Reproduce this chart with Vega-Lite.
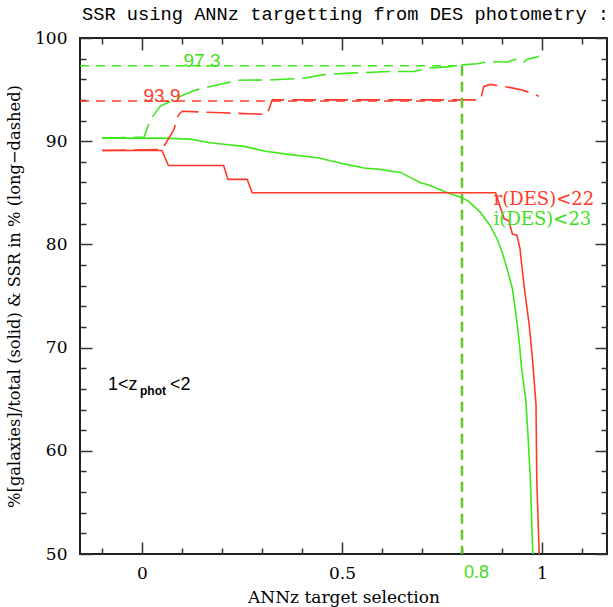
{
  "$schema": "https://vega.github.io/schema/vega-lite/v6.json",
  "width": 527,
  "height": 516,
  "autosize": {"type": "none"},
  "padding": {"left": 80, "top": 38, "right": 6, "bottom": 53},
  "background": "white",
  "title": {
    "text": "SSR using ANNz targetting from DES photometry :",
    "anchor": "start",
    "frame": "group",
    "font": "Liberation Mono",
    "fontSize": 18.7,
    "fontWeight": "normal",
    "color": "black",
    "baseline": "alphabetic",
    "offset": -10,
    "dx": 2
  },
  "config": {
    "view": {"stroke": "#222222", "strokeWidth": 2},
    "axis": {
      "domain": false,
      "grid": false,
      "tickColor": "#333333",
      "tickWidth": 1.5,
      "labelFont": "DejaVu Serif",
      "labelFontSize": 17,
      "labelColor": "black",
      "titleFont": "DejaVu Serif",
      "titleFontSize": 16.3,
      "titleFontWeight": "normal",
      "titleColor": "black"
    }
  },
  "datasets": {
    "curves": [
      {"s": "i_frac", "x": -0.1, "y": 90.3},
      {"s": "i_frac", "x": 0.05, "y": 90.3},
      {"s": "i_frac", "x": 0.12, "y": 90.2},
      {"s": "i_frac", "x": 0.17, "y": 89.85},
      {"s": "i_frac", "x": 0.205, "y": 89.7},
      {"s": "i_frac", "x": 0.255, "y": 89.5},
      {"s": "i_frac", "x": 0.305, "y": 89.05},
      {"s": "i_frac", "x": 0.37, "y": 88.7},
      {"s": "i_frac", "x": 0.44, "y": 88.4},
      {"s": "i_frac", "x": 0.505, "y": 87.8},
      {"s": "i_frac", "x": 0.555, "y": 87.4},
      {"s": "i_frac", "x": 0.6, "y": 87.25},
      {"s": "i_frac", "x": 0.62, "y": 87.1},
      {"s": "i_frac", "x": 0.645, "y": 87.0},
      {"s": "i_frac", "x": 0.695, "y": 86.0},
      {"s": "i_frac", "x": 0.72, "y": 85.7},
      {"s": "i_frac", "x": 0.763, "y": 85.0},
      {"s": "i_frac", "x": 0.795, "y": 84.6},
      {"s": "i_frac", "x": 0.816, "y": 84.2},
      {"s": "i_frac", "x": 0.846, "y": 83.1},
      {"s": "i_frac", "x": 0.871, "y": 81.8},
      {"s": "i_frac", "x": 0.888, "y": 80.5},
      {"s": "i_frac", "x": 0.9, "y": 79.3},
      {"s": "i_frac", "x": 0.913, "y": 77.6},
      {"s": "i_frac", "x": 0.926, "y": 75.7},
      {"s": "i_frac", "x": 0.934, "y": 73.5},
      {"s": "i_frac", "x": 0.943, "y": 70.6},
      {"s": "i_frac", "x": 0.949, "y": 68.0},
      {"s": "i_frac", "x": 0.959, "y": 65.1},
      {"s": "i_frac", "x": 0.9645, "y": 61.9},
      {"s": "i_frac", "x": 0.971, "y": 57.1},
      {"s": "i_frac", "x": 0.977, "y": 50.0},
      {"s": "r_frac", "x": -0.1, "y": 89.1},
      {"s": "r_frac", "x": 0.05, "y": 89.1},
      {"s": "r_frac", "x": 0.066, "y": 87.65},
      {"s": "r_frac", "x": 0.204, "y": 87.65},
      {"s": "r_frac", "x": 0.215, "y": 86.3},
      {"s": "r_frac", "x": 0.263, "y": 86.3},
      {"s": "r_frac", "x": 0.2755, "y": 85.0},
      {"s": "r_frac", "x": 0.884, "y": 85.0},
      {"s": "r_frac", "x": 0.905, "y": 82.5},
      {"s": "r_frac", "x": 0.917, "y": 82.3},
      {"s": "r_frac", "x": 0.926, "y": 81.0},
      {"s": "r_frac", "x": 0.937, "y": 80.9},
      {"s": "r_frac", "x": 0.945, "y": 79.6},
      {"s": "r_frac", "x": 0.955, "y": 76.0},
      {"s": "r_frac", "x": 0.968, "y": 72.2},
      {"s": "r_frac", "x": 0.976, "y": 69.0},
      {"s": "r_frac", "x": 0.985, "y": 64.5},
      {"s": "r_frac", "x": 0.987, "y": 57.1},
      {"s": "r_frac", "x": 0.993, "y": 50.0},
      {"s": "i_ssr", "x": -0.1, "y": 90.3},
      {"s": "i_ssr", "x": 0.005, "y": 90.4},
      {"s": "i_ssr", "x": 0.021, "y": 92.1},
      {"s": "i_ssr", "x": 0.046, "y": 93.4},
      {"s": "i_ssr", "x": 0.071, "y": 93.85},
      {"s": "i_ssr", "x": 0.1045, "y": 94.5},
      {"s": "i_ssr", "x": 0.138, "y": 95.0},
      {"s": "i_ssr", "x": 0.2045, "y": 95.6},
      {"s": "i_ssr", "x": 0.238, "y": 95.9},
      {"s": "i_ssr", "x": 0.33, "y": 95.95},
      {"s": "i_ssr", "x": 0.4045, "y": 96.1},
      {"s": "i_ssr", "x": 0.4545, "y": 96.45},
      {"s": "i_ssr", "x": 0.521, "y": 96.6},
      {"s": "i_ssr", "x": 0.621, "y": 96.75},
      {"s": "i_ssr", "x": 0.68, "y": 96.75},
      {"s": "i_ssr", "x": 0.721, "y": 97.1},
      {"s": "i_ssr", "x": 0.763, "y": 97.2},
      {"s": "i_ssr", "x": 0.8, "y": 97.4},
      {"s": "i_ssr", "x": 0.838, "y": 97.5},
      {"s": "i_ssr", "x": 0.863, "y": 97.7},
      {"s": "i_ssr", "x": 0.888, "y": 97.7},
      {"s": "i_ssr", "x": 0.913, "y": 97.65},
      {"s": "i_ssr", "x": 0.93, "y": 97.9},
      {"s": "i_ssr", "x": 0.942, "y": 97.95},
      {"s": "i_ssr", "x": 0.9545, "y": 97.65},
      {"s": "i_ssr", "x": 0.963, "y": 97.95},
      {"s": "i_ssr", "x": 0.9755, "y": 98.05},
      {"s": "i_ssr", "x": 0.992, "y": 98.2},
      {"s": "r_ssr", "x": -0.1, "y": 89.1},
      {"s": "r_ssr", "x": 0.05, "y": 89.2},
      {"s": "r_ssr", "x": 0.0795, "y": 91.1},
      {"s": "r_ssr", "x": 0.092, "y": 92.6},
      {"s": "r_ssr", "x": 0.1005, "y": 92.9},
      {"s": "r_ssr", "x": 0.2, "y": 92.75},
      {"s": "r_ssr", "x": 0.313, "y": 92.6},
      {"s": "r_ssr", "x": 0.3255, "y": 94.0},
      {"s": "r_ssr", "x": 0.846, "y": 94.0},
      {"s": "r_ssr", "x": 0.8545, "y": 95.3},
      {"s": "r_ssr", "x": 0.871, "y": 95.5},
      {"s": "r_ssr", "x": 0.913, "y": 95.25},
      {"s": "r_ssr", "x": 0.946, "y": 95.0},
      {"s": "r_ssr", "x": 0.971, "y": 94.7},
      {"s": "r_ssr", "x": 0.992, "y": 94.35}
    ],
    "refs": [
      {"s": "i_ref", "x": -0.155, "y": 97.3},
      {"s": "i_ref", "x": 0.8, "y": 97.3},
      {"s": "r_ref", "x": -0.155, "y": 93.9},
      {"s": "r_ref", "x": 0.8, "y": 93.9},
      {"s": "i_cut", "x": 0.8, "y": 97.3},
      {"s": "i_cut", "x": 0.8, "y": 50.0}
    ],
    "labels": [
      {"k": "i_val", "text": "97.3", "x": 0.15, "y": 97.3},
      {"k": "r_val", "text": "93.9", "x": 0.05, "y": 93.9},
      {"k": "cut", "text": "0.8", "x": 0.8, "y": 50},
      {"k": "r_name", "text": "r(DES)<22", "x": 0.879, "y": 84.3},
      {"k": "i_name", "text": "i(DES)<23", "x": 0.879, "y": 82.35},
      {"k": "z_a", "text": "1<z", "x": -0.085, "y": 66.4},
      {"k": "z_b", "text": "phot", "x": -0.085, "y": 66.4},
      {"k": "z_c", "text": "<2", "x": -0.085, "y": 66.4}
    ]
  },
  "resolve": {"axis": {"x": "independent", "y": "independent"}},
  "layer": [
    {
      "data": {"name": "curves"},
      "transform": [{"filter": "datum.s == 'i_frac'"}],
      "mark": {"type": "line", "color": "#3fe81a", "strokeWidth": 1.6, "clip": true},
      "encoding": {
        "x": {
          "field": "x", "type": "quantitative",
          "scale": {"domain": [-0.155, 1.1625], "nice": false, "zero": false},
          "axis": {"orient": "bottom", "values": [0, 0.5, 1], "format": "~g", "tickSize": -12, "labelPadding": 23, "title": "ANNz target selection", "titlePadding": 8, "titleFontSize": 17}
        },
        "y": {
          "field": "y", "type": "quantitative",
          "scale": {"domain": [50, 100], "nice": false, "zero": false},
          "axis": {"orient": "left", "values": [50, 60, 70, 80, 90, 100], "tickSize": -12, "labelPadding": 25, "title": "%[galaxies]/total (solid) & SSR in % (long\u2212dashed)", "titlePadding": 12}
        },
        "order": {"field": "x", "type": "quantitative"}
      }
    },
    {
      "data": {"name": "curves"},
      "transform": [{"filter": "datum.s == 'r_frac'"}],
      "mark": {"type": "line", "color": "#ff3a2a", "strokeWidth": 1.6, "clip": true},
      "encoding": {
        "x": {
          "field": "x", "type": "quantitative",
          "axis": {"orient": "bottom", "values": [-0.1, 0.1, 0.2, 0.3, 0.4, 0.6, 0.7, 0.8, 0.9, 1.1], "tickSize": -6, "labels": false, "title": null}
        },
        "y": {
          "field": "y", "type": "quantitative",
          "axis": {"orient": "left", "values": [52, 54, 56, 58, 62, 64, 66, 68, 72, 74, 76, 78, 82, 84, 86, 88, 92, 94, 96, 98], "tickSize": -6, "labels": false, "title": null}
        },
        "order": {"field": "x", "type": "quantitative"}
      }
    },
    {
      "data": {"name": "curves"},
      "transform": [{"filter": "datum.s == 'i_ssr'"}],
      "mark": {"type": "line", "color": "#3fe81a", "strokeWidth": 1.6, "strokeDash": [24, 8], "clip": true},
      "encoding": {
        "x": {
          "field": "x", "type": "quantitative",
          "axis": {"orient": "top", "values": [0, 0.5, 1], "tickSize": -12, "labels": false, "title": null}
        },
        "y": {
          "field": "y", "type": "quantitative",
          "axis": {"orient": "right", "values": [50, 60, 70, 80, 90, 100], "tickSize": -12, "labels": false, "title": null}
        },
        "order": {"field": "x", "type": "quantitative"}
      }
    },
    {
      "data": {"name": "curves"},
      "transform": [{"filter": "datum.s == 'r_ssr'"}],
      "mark": {"type": "line", "color": "#ff3a2a", "strokeWidth": 1.6, "strokeDash": [24, 8], "clip": true},
      "encoding": {
        "x": {
          "field": "x", "type": "quantitative",
          "axis": {"orient": "top", "values": [-0.1, 0.1, 0.2, 0.3, 0.4, 0.6, 0.7, 0.8, 0.9, 1.1], "tickSize": -6, "labels": false, "title": null}
        },
        "y": {
          "field": "y", "type": "quantitative",
          "axis": {"orient": "right", "values": [52, 54, 56, 58, 62, 64, 66, 68, 72, 74, 76, 78, 82, 84, 86, 88, 92, 94, 96, 98], "tickSize": -6, "labels": false, "title": null}
        },
        "order": {"field": "x", "type": "quantitative"}
      }
    },
    {
      "data": {"name": "refs"},
      "transform": [{"filter": "datum.s == 'i_ref'"}],
      "mark": {"type": "line", "color": "#3fe81a", "strokeWidth": 1.5, "strokeDash": [9, 7], "clip": true},
      "encoding": {
        "x": {"field": "x", "type": "quantitative", "axis": null},
        "y": {"field": "y", "type": "quantitative", "axis": null}
      }
    },
    {
      "data": {"name": "refs"},
      "transform": [{"filter": "datum.s == 'r_ref'"}],
      "mark": {"type": "line", "color": "#ff3a2a", "strokeWidth": 1.5, "strokeDash": [9, 7], "clip": true},
      "encoding": {
        "x": {"field": "x", "type": "quantitative", "axis": null},
        "y": {"field": "y", "type": "quantitative", "axis": null}
      }
    },
    {
      "data": {"name": "refs"},
      "transform": [{"filter": "datum.s == 'i_cut'"}],
      "mark": {"type": "line", "color": "#5ec62a", "strokeWidth": 2.5, "strokeDash": [10, 6], "clip": true},
      "encoding": {
        "x": {"field": "x", "type": "quantitative", "axis": null},
        "y": {"field": "y", "type": "quantitative", "axis": null},
        "order": {"field": "y", "type": "quantitative", "sort": "descending"}
      }
    },
    {
      "data": {"name": "labels"},
      "transform": [{"filter": "datum.k == 'i_val'"}],
      "mark": {"type": "text", "color": "#3fe01a", "font": "Liberation Sans", "fontSize": 19, "align": "center", "baseline": "alphabetic", "dy": 1},
      "encoding": {
        "x": {"field": "x", "type": "quantitative", "axis": null},
        "y": {"field": "y", "type": "quantitative", "axis": null},
        "text": {"field": "text"}
      }
    },
    {
      "data": {"name": "labels"},
      "transform": [{"filter": "datum.k == 'r_val'"}],
      "mark": {"type": "text", "color": "#ff3a2a", "font": "Liberation Sans", "fontSize": 19, "align": "center", "baseline": "alphabetic", "dy": 1},
      "encoding": {
        "x": {"field": "x", "type": "quantitative", "axis": null},
        "y": {"field": "y", "type": "quantitative", "axis": null},
        "text": {"field": "text"}
      }
    },
    {
      "data": {"name": "labels"},
      "transform": [{"filter": "datum.k == 'cut'"}],
      "mark": {"type": "text", "color": "#3fe01a", "font": "Liberation Sans", "fontSize": 18, "align": "left", "baseline": "top", "dx": 2, "dy": 10},
      "encoding": {
        "x": {"field": "x", "type": "quantitative", "axis": null},
        "y": {"field": "y", "type": "quantitative", "axis": null},
        "text": {"field": "text"}
      }
    },
    {
      "data": {"name": "labels"},
      "transform": [{"filter": "datum.k == 'r_name'"}],
      "mark": {"type": "text", "color": "#ff3a2a", "font": "DejaVu Serif", "fontSize": 18, "align": "left", "baseline": "middle"},
      "encoding": {
        "x": {"field": "x", "type": "quantitative", "axis": null},
        "y": {"field": "y", "type": "quantitative", "axis": null},
        "text": {"field": "text"}
      }
    },
    {
      "data": {"name": "labels"},
      "transform": [{"filter": "datum.k == 'i_name'"}],
      "mark": {"type": "text", "color": "#3fe01a", "font": "DejaVu Serif", "fontSize": 18, "align": "left", "baseline": "middle"},
      "encoding": {
        "x": {"field": "x", "type": "quantitative", "axis": null},
        "y": {"field": "y", "type": "quantitative", "axis": null},
        "text": {"field": "text"}
      }
    },
    {
      "data": {"name": "labels"},
      "transform": [{"filter": "datum.k == 'z_a'"}],
      "mark": {"type": "text", "color": "black", "font": "Liberation Sans", "fontSize": 18, "align": "left", "baseline": "middle"},
      "encoding": {
        "x": {"field": "x", "type": "quantitative", "axis": null},
        "y": {"field": "y", "type": "quantitative", "axis": null},
        "text": {"field": "text"}
      }
    },
    {
      "data": {"name": "labels"},
      "transform": [{"filter": "datum.k == 'z_b'"}],
      "mark": {"type": "text", "color": "black", "font": "Liberation Sans", "fontSize": 12, "fontWeight": "bold", "align": "left", "baseline": "middle", "dx": 32, "dy": 6},
      "encoding": {
        "x": {"field": "x", "type": "quantitative", "axis": null},
        "y": {"field": "y", "type": "quantitative", "axis": null},
        "text": {"field": "text"}
      }
    },
    {
      "data": {"name": "labels"},
      "transform": [{"filter": "datum.k == 'z_c'"}],
      "mark": {"type": "text", "color": "black", "font": "Liberation Sans", "fontSize": 18, "align": "left", "baseline": "middle", "dx": 62},
      "encoding": {
        "x": {"field": "x", "type": "quantitative", "axis": null},
        "y": {"field": "y", "type": "quantitative", "axis": null},
        "text": {"field": "text"}
      }
    }
  ]
}
